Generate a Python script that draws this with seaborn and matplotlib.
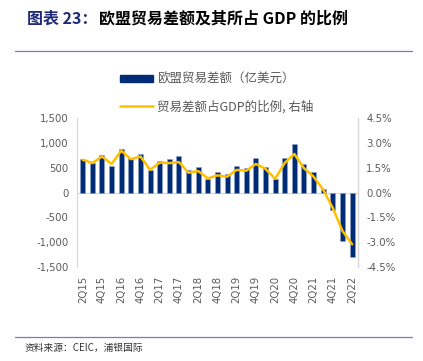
import numpy as np
import pandas as pd
import matplotlib
matplotlib.use("Agg")
import matplotlib.pyplot as plt
import seaborn as sns
from matplotlib.lines import Line2D
from matplotlib.patches import Patch
from matplotlib.ticker import FuncFormatter, MultipleLocator

# quarters 2Q15 .. 2Q22
quarters = ['2Q15', '3Q15', '4Q15', '1Q16', '2Q16', '3Q16', '4Q16', '1Q17', '2Q17', '3Q17',
            '4Q17', '1Q18', '2Q18', '3Q18', '4Q18', '1Q19', '2Q19', '3Q19', '4Q19', '1Q20',
            '2Q20', '3Q20', '4Q20', '1Q21', '2Q21', '3Q21', '4Q21', '1Q22', '2Q22']
# EU trade balance, 100m USD
balance = [673, 592, 761, 537, 884, 694, 776, 445, 639, 673,
           741, 455, 523, 272, 418, 367, 537, 503, 694, 523,
           265, 694, 980, 584, 415, 82, -347, -973, -1286]
# trade balance as % of GDP (right axis)
pct_gdp = [1.98, 1.78, 2.18, 1.73, 2.53, 2.02, 2.18, 1.37, 1.81, 1.78,
           1.84, 1.20, 1.30, 0.86, 1.04, 0.96, 1.37, 1.32, 1.73, 1.43,
           0.83, 1.80, 2.33, 1.47, 0.96, 0.18, -0.94, -2.31, -3.12]

bar_label = '欧盟贸易差额（亿美元）'
line_label = '贸易差额占GDP的比例, 右轴'

df = pd.DataFrame({'quarter': quarters, 'balance': balance, 'pct': pct_gdp})
df['pos'] = np.arange(len(df))

sns.set_style('white')
plt.rcParams['font.family'] = ['DejaVu Sans', 'Noto Sans CJK SC']

navy = '#002C77'
gold = '#FFC000'
grey_txt = '#595959'
axis_grey = '#D9D9D9'

fig = plt.figure(figsize=(4.23, 3.61), dpi=100)
ax = fig.add_axes([0.182, 0.260, 0.664, 0.413])

sns.barplot(data=df, x='pos', y='balance', color=navy, width=0.52,
            edgecolor='#8FA3C8', linewidth=0.4, saturation=1, ax=ax, native_scale=True)
ax.set_ylim(-1500, 1500)
ax.yaxis.set_major_locator(MultipleLocator(500))
ax.yaxis.set_major_formatter(FuncFormatter(lambda v, p: f'{v:,.0f}'))
ax.set_xlim(-0.6, len(df) - 0.4)
ax.set_xticks(df['pos'][::2])
ax.set_xticklabels(df['quarter'][::2], rotation=90)
ax.set_xlabel('')
ax.set_ylabel('')
ax.axhline(0, color=axis_grey, lw=0.9, zorder=0.5)
ax.tick_params(length=0, labelsize=7.3, colors=grey_txt)
ax.tick_params(axis='x', pad=6)
ax.tick_params(axis='y', pad=6)
for s in ['top', 'bottom']:
    ax.spines[s].set_visible(False)
for s in ['left', 'right']:
    ax.spines[s].set_color(axis_grey)
    ax.spines[s].set_linewidth(0.9)

ax2 = ax.twinx()
sns.lineplot(data=df, x='pos', y='pct', color=gold, lw=1.8, ax=ax2)
ax2.set_ylim(-4.5, 4.5)
ax2.yaxis.set_major_locator(MultipleLocator(1.5))
ax2.yaxis.set_major_formatter(FuncFormatter(lambda v, p: f'{v:.1f}%'))
ax2.set_ylabel('')
ax2.set_xlabel('')
ax2.tick_params(length=0, labelsize=7.3, colors=grey_txt, pad=6)
for s in ['top', 'bottom', 'left']:
    ax2.spines[s].set_visible(False)
ax2.spines['right'].set_color(axis_grey)
ax2.spines['right'].set_linewidth(0.9)

handles = [Patch(facecolor=navy, edgecolor=navy), Line2D([0], [0], color=gold, lw=1.8)]
fig.legend(handles, [bar_label, line_label], loc='upper left',
           bbox_to_anchor=(0.27, 0.815), frameon=False,
           labelcolor=grey_txt, handlelength=2.6, handleheight=0.55,
           handletextpad=0.3, labelspacing=1.1, borderpad=0,
           prop={'family': ['Noto Sans CJK SC'], 'size': 9})

# title: first part navy, rest black, placed right after
t1 = fig.text(0.064, 0.948, '图表 23：', fontsize=11.5, fontweight='bold', color='#1F2A7A',
              family=['Noto Sans CJK SC'], va='center')
fig.canvas.draw()
bb = t1.get_window_extent()
fig.text(bb.x1 / fig.bbox.width + 0.004, 0.948, '欧盟贸易差额及其所占 GDP 的比例', fontsize=11.5,
         fontweight='bold', color='black', family=['Noto Sans CJK SC'], va='center')
fig.add_artist(Line2D([0.035, 0.975], [0.858, 0.858], color='#7C7CA8', lw=0.9))
fig.add_artist(Line2D([0.035, 0.975], [0.066, 0.066], color='#7C7CA8', lw=0.9))
fig.text(0.058, 0.036, '资料来源：CEIC，浦银国际', fontsize=7, color='#333333',
         family=['Noto Sans CJK SC'], va='center')

fig.savefig('out.png', dpi=100)
